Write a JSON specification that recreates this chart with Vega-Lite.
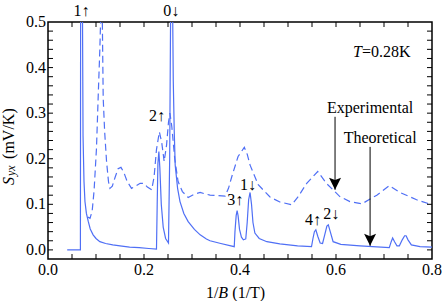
{
  "$schema": "https://vega.github.io/schema/vega-lite/v6.json",
  "width": 384,
  "height": 237,
  "autosize": {"type": "none"},
  "padding": {"left": 48, "top": 22, "right": 11, "bottom": 42},
  "background": "white",
  "config": {
    "view": {"stroke": "#000", "strokeWidth": 1.5},
    "font": "Liberation Serif"
  },
  "datasets": {
    "theo": [
      {"x": 0.04, "y": 0.0}, {"x": 0.0675, "y": 0.0}, {"x": 0.068, "y": 0.6}, {"x": 0.0715, "y": 0.6},
      {"x": 0.073, "y": 0.25}, {"x": 0.075, "y": 0.15}, {"x": 0.077, "y": 0.106}, {"x": 0.08, "y": 0.08},
      {"x": 0.084, "y": 0.062}, {"x": 0.088, "y": 0.046}, {"x": 0.094, "y": 0.033}, {"x": 0.1, "y": 0.025},
      {"x": 0.108, "y": 0.018}, {"x": 0.12, "y": 0.014}, {"x": 0.135, "y": 0.011}, {"x": 0.15, "y": 0.009},
      {"x": 0.17, "y": 0.006}, {"x": 0.19, "y": 0.005}, {"x": 0.21, "y": 0.003}, {"x": 0.226, "y": 0.0015},
      {"x": 0.2275, "y": 0.1}, {"x": 0.229, "y": 0.19}, {"x": 0.231, "y": 0.216}, {"x": 0.233, "y": 0.18},
      {"x": 0.236, "y": 0.1}, {"x": 0.24, "y": 0.05}, {"x": 0.245, "y": 0.025}, {"x": 0.251, "y": 0.015},
      {"x": 0.2535, "y": 0.2}, {"x": 0.255, "y": 0.45}, {"x": 0.256, "y": 0.6}, {"x": 0.259, "y": 0.6},
      {"x": 0.261, "y": 0.37}, {"x": 0.263, "y": 0.26}, {"x": 0.265, "y": 0.186}, {"x": 0.27, "y": 0.135},
      {"x": 0.275, "y": 0.106}, {"x": 0.283, "y": 0.08}, {"x": 0.292, "y": 0.062}, {"x": 0.305, "y": 0.045},
      {"x": 0.317, "y": 0.033}, {"x": 0.33, "y": 0.024}, {"x": 0.3375, "y": 0.02}, {"x": 0.36, "y": 0.014},
      {"x": 0.388, "y": 0.007}, {"x": 0.3895, "y": 0.04}, {"x": 0.392, "y": 0.075}, {"x": 0.394, "y": 0.086},
      {"x": 0.396, "y": 0.075}, {"x": 0.399, "y": 0.045}, {"x": 0.403, "y": 0.028}, {"x": 0.407, "y": 0.022},
      {"x": 0.412, "y": 0.024}, {"x": 0.415, "y": 0.06}, {"x": 0.418, "y": 0.11}, {"x": 0.421, "y": 0.126},
      {"x": 0.424, "y": 0.1}, {"x": 0.427, "y": 0.06}, {"x": 0.431, "y": 0.037}, {"x": 0.44, "y": 0.025},
      {"x": 0.456, "y": 0.018}, {"x": 0.483, "y": 0.013}, {"x": 0.52, "y": 0.009}, {"x": 0.549, "y": 0.007},
      {"x": 0.552, "y": 0.025}, {"x": 0.555, "y": 0.04}, {"x": 0.558, "y": 0.044}, {"x": 0.562, "y": 0.03},
      {"x": 0.567, "y": 0.015}, {"x": 0.572, "y": 0.014}, {"x": 0.577, "y": 0.035}, {"x": 0.581, "y": 0.052},
      {"x": 0.584, "y": 0.055}, {"x": 0.588, "y": 0.04}, {"x": 0.594, "y": 0.018}, {"x": 0.61, "y": 0.012},
      {"x": 0.65, "y": 0.009}, {"x": 0.711, "y": 0.005}, {"x": 0.715, "y": 0.018}, {"x": 0.718, "y": 0.026},
      {"x": 0.722, "y": 0.018}, {"x": 0.727, "y": 0.009}, {"x": 0.732, "y": 0.009}, {"x": 0.738, "y": 0.022},
      {"x": 0.743, "y": 0.031}, {"x": 0.746, "y": 0.031}, {"x": 0.75, "y": 0.022}, {"x": 0.757, "y": 0.011},
      {"x": 0.775, "y": 0.007}, {"x": 0.8, "y": 0.006}
    ],
    "exp": [
      {"x": 0.083, "y": 0.072}, {"x": 0.0875, "y": 0.069}, {"x": 0.092, "y": 0.085}, {"x": 0.096, "y": 0.13},
      {"x": 0.101, "y": 0.223}, {"x": 0.105, "y": 0.35}, {"x": 0.108, "y": 0.44}, {"x": 0.11, "y": 0.52},
      {"x": 0.113, "y": 0.52}, {"x": 0.115, "y": 0.333}, {"x": 0.118, "y": 0.26}, {"x": 0.122, "y": 0.194},
      {"x": 0.126, "y": 0.15}, {"x": 0.129, "y": 0.135}, {"x": 0.134, "y": 0.14}, {"x": 0.14, "y": 0.16},
      {"x": 0.146, "y": 0.178}, {"x": 0.152, "y": 0.181}, {"x": 0.158, "y": 0.17}, {"x": 0.165, "y": 0.15},
      {"x": 0.174, "y": 0.135}, {"x": 0.183, "y": 0.14}, {"x": 0.192, "y": 0.146}, {"x": 0.199, "y": 0.146},
      {"x": 0.207, "y": 0.138}, {"x": 0.216, "y": 0.132}, {"x": 0.221, "y": 0.16}, {"x": 0.226, "y": 0.22},
      {"x": 0.232, "y": 0.259}, {"x": 0.237, "y": 0.235}, {"x": 0.242, "y": 0.194}, {"x": 0.247, "y": 0.23},
      {"x": 0.251, "y": 0.28}, {"x": 0.254, "y": 0.3}, {"x": 0.258, "y": 0.27}, {"x": 0.264, "y": 0.2},
      {"x": 0.271, "y": 0.15}, {"x": 0.28, "y": 0.128}, {"x": 0.292, "y": 0.115}, {"x": 0.305, "y": 0.122},
      {"x": 0.317, "y": 0.126}, {"x": 0.3375, "y": 0.12}, {"x": 0.369, "y": 0.118}, {"x": 0.376, "y": 0.135},
      {"x": 0.383, "y": 0.161}, {"x": 0.396, "y": 0.205}, {"x": 0.409, "y": 0.225}, {"x": 0.415, "y": 0.21},
      {"x": 0.421, "y": 0.186}, {"x": 0.438, "y": 0.143}, {"x": 0.4625, "y": 0.116}, {"x": 0.483, "y": 0.105},
      {"x": 0.508, "y": 0.099}, {"x": 0.52, "y": 0.115}, {"x": 0.539, "y": 0.146}, {"x": 0.562, "y": 0.172},
      {"x": 0.58, "y": 0.146}, {"x": 0.608, "y": 0.117}, {"x": 0.629, "y": 0.106}, {"x": 0.654, "y": 0.101},
      {"x": 0.685, "y": 0.12}, {"x": 0.711, "y": 0.141}, {"x": 0.733, "y": 0.126}, {"x": 0.768, "y": 0.11},
      {"x": 0.8, "y": 0.099}
    ],
    "xticks": [
      {"v": 0.05}, {"v": 0.1}, {"v": 0.15}, {"v": 0.2}, {"v": 0.25}, {"v": 0.3}, {"v": 0.35}, {"v": 0.4},
      {"v": 0.45}, {"v": 0.5}, {"v": 0.55}, {"v": 0.6}, {"v": 0.65}, {"v": 0.7}, {"v": 0.75}
    ],
    "yticks": [
      {"v": 0.0}, {"v": 0.02}, {"v": 0.04}, {"v": 0.06}, {"v": 0.08}, {"v": 0.1}, {"v": 0.12}, {"v": 0.14},
      {"v": 0.16}, {"v": 0.18}, {"v": 0.2}, {"v": 0.22}, {"v": 0.24}, {"v": 0.26}, {"v": 0.28}, {"v": 0.3},
      {"v": 0.32}, {"v": 0.34}, {"v": 0.36}, {"v": 0.38}, {"v": 0.4}, {"v": 0.42}, {"v": 0.44}, {"v": 0.46},
      {"v": 0.48}
    ],
    "xlabels": [
      {"v": 0.0, "label": "0.0"}, {"v": 0.2, "label": "0.2"}, {"v": 0.4, "label": "0.4"},
      {"v": 0.6, "label": "0.6"}, {"v": 0.8, "label": "0.8"}
    ],
    "ylabels": [
      {"v": 0.0, "label": "0.0"}, {"v": 0.1, "label": "0.1"}, {"v": 0.2, "label": "0.2"},
      {"v": 0.3, "label": "0.3"}, {"v": 0.4, "label": "0.4"}, {"v": 0.5, "label": "0.5"}
    ],
    "labels": [
      {"label": "1↑", "x": 0.0698, "y": 0.524}, {"label": "0↓", "x": 0.257, "y": 0.524},
      {"label": "2↑", "x": 0.227, "y": 0.294}, {"label": "3↑", "x": 0.39, "y": 0.109},
      {"label": "1↓", "x": 0.4165, "y": 0.143}, {"label": "4↑", "x": 0.552, "y": 0.066},
      {"label": "2↓", "x": 0.59, "y": 0.078}, {"label": "Experimental", "x": 0.671, "y": 0.311},
      {"label": "Theoretical", "x": 0.692, "y": 0.246}
    ],
    "arrows": [
      {"x": 0.598, "top": 0.292, "tip": 0.132},
      {"x": 0.671, "top": 0.226, "tip": 0.009}
    ],
    "tItalic": [{"label": "T", "x": 0.654, "y": 0.434}],
    "tRest": [{"label": "=0.28K", "x": 0.654, "y": 0.434}],
    "yS": [{"label": "S", "x": -0.0715, "y": 0.1425}],
    "ySub": [{"label": "yx", "x": -0.068, "y": 0.162}],
    "yUnit": [{"label": "(mV/K)", "x": -0.0715, "y": 0.1996}],
    "x1": [{"label": "1/", "x": 0.355, "y": -0.105}],
    "xB": [{"label": "B", "x": 0.365, "y": -0.105}],
    "xUnit": [{"label": "(1/T)", "x": 0.384, "y": -0.105}]
  },
  "layer": [
    {
      "data": {"name": "theo"},
      "mark": {"type": "line", "color": "#4f6ff5", "strokeWidth": 1.2, "clip": true},
      "encoding": {
        "x": {"field": "x", "type": "quantitative", "scale": {"domain": [0, 0.8], "nice": false, "zero": false}, "axis": null},
        "y": {"field": "y", "type": "quantitative", "scale": {"domain": [-0.02, 0.5], "nice": false, "zero": false}, "axis": null}
      }
    },
    {
      "data": {"name": "exp"},
      "mark": {"type": "line", "color": "#4f6ff5", "strokeWidth": 1.2, "strokeDash": [7, 4], "clip": true},
      "encoding": {
        "x": {"field": "x", "type": "quantitative", "scale": {"domain": [0, 0.8], "nice": false, "zero": false}, "axis": null},
        "y": {"field": "y", "type": "quantitative", "scale": {"domain": [-0.02, 0.5], "nice": false, "zero": false}, "axis": null}
      }
    },
    {
      "data": {"name": "xticks"},
      "mark": {"type": "tick", "orient": "vertical", "color": "#000", "thickness": 1, "size": 10, "opacity": 1, "clip": true},
      "encoding": {
        "x": {"field": "v", "type": "quantitative", "scale": {"domain": [0, 0.8], "nice": false, "zero": false}, "axis": null},
        "y": {"datum": -0.02, "type": "quantitative", "scale": {"domain": [-0.02, 0.5], "nice": false, "zero": false}, "axis": null}
      }
    },
    {
      "data": {"name": "xticks"},
      "mark": {"type": "tick", "orient": "vertical", "color": "#000", "thickness": 1, "size": 10, "opacity": 1, "clip": true},
      "encoding": {
        "x": {"field": "v", "type": "quantitative", "scale": {"domain": [0, 0.8], "nice": false, "zero": false}, "axis": null},
        "y": {"datum": 0.5, "type": "quantitative", "scale": {"domain": [-0.02, 0.5], "nice": false, "zero": false}, "axis": null}
      }
    },
    {
      "data": {"name": "yticks"},
      "mark": {"type": "tick", "orient": "horizontal", "color": "#000", "thickness": 1, "size": 10, "opacity": 1, "clip": true},
      "encoding": {
        "y": {"field": "v", "type": "quantitative", "scale": {"domain": [-0.02, 0.5], "nice": false, "zero": false}, "axis": null},
        "x": {"datum": 0, "type": "quantitative", "scale": {"domain": [0, 0.8], "nice": false, "zero": false}, "axis": null}
      }
    },
    {
      "data": {"name": "yticks"},
      "mark": {"type": "tick", "orient": "horizontal", "color": "#000", "thickness": 1, "size": 10, "opacity": 1, "clip": true},
      "encoding": {
        "y": {"field": "v", "type": "quantitative", "scale": {"domain": [-0.02, 0.5], "nice": false, "zero": false}, "axis": null},
        "x": {"datum": 0.8, "type": "quantitative", "scale": {"domain": [0, 0.8], "nice": false, "zero": false}, "axis": null}
      }
    },
    {
      "data": {"name": "xlabels"},
      "mark": {"type": "text", "font": "Liberation Serif", "fontSize": 16, "color": "#000", "align": "center", "baseline": "top", "dy": 3},
      "encoding": {
        "x": {"field": "v", "type": "quantitative", "scale": {"domain": [0, 0.8], "nice": false, "zero": false}, "axis": null},
        "y": {"datum": -0.02, "type": "quantitative", "scale": {"domain": [-0.02, 0.5], "nice": false, "zero": false}, "axis": null},
        "text": {"field": "label"}
      }
    },
    {
      "data": {"name": "ylabels"},
      "mark": {"type": "text", "font": "Liberation Serif", "fontSize": 16, "color": "#000", "align": "right", "baseline": "middle", "dx": -2},
      "encoding": {
        "y": {"field": "v", "type": "quantitative", "scale": {"domain": [-0.02, 0.5], "nice": false, "zero": false}, "axis": null},
        "x": {"datum": 0, "type": "quantitative", "scale": {"domain": [0, 0.8], "nice": false, "zero": false}, "axis": null},
        "text": {"field": "label"}
      }
    },
    {
      "data": {"name": "arrows"},
      "mark": {"type": "rule", "color": "#000", "strokeWidth": 1},
      "encoding": {
        "x": {"field": "x", "type": "quantitative", "scale": {"domain": [0, 0.8], "nice": false, "zero": false}, "axis": null},
        "y": {"field": "top", "type": "quantitative", "scale": {"domain": [-0.02, 0.5], "nice": false, "zero": false}, "axis": null},
        "y2": {"field": "tip"}
      }
    },
    {
      "data": {"name": "arrows"},
      "mark": {"type": "point", "shape": "M-1,-2L0,-1.6L1,-2L0,0Z", "filled": true, "color": "#000", "size": 144, "opacity": 1},
      "encoding": {
        "x": {"field": "x", "type": "quantitative", "scale": {"domain": [0, 0.8], "nice": false, "zero": false}, "axis": null},
        "y": {"field": "tip", "type": "quantitative", "scale": {"domain": [-0.02, 0.5], "nice": false, "zero": false}, "axis": null}
      }
    },
    {
      "data": {"name": "labels"},
      "mark": {"type": "text", "font": "Liberation Serif", "fontSize": 16, "color": "#000", "align": "center", "baseline": "middle"},
      "encoding": {
        "x": {"field": "x", "type": "quantitative", "scale": {"domain": [0, 0.8], "nice": false, "zero": false}, "axis": null},
        "y": {"field": "y", "type": "quantitative", "scale": {"domain": [-0.02, 0.5], "nice": false, "zero": false}, "axis": null},
        "text": {"field": "label"}
      }
    },
    {
      "data": {"name": "tItalic"},
      "mark": {"type": "text", "font": "Liberation Serif", "fontSize": 16, "fontStyle": "italic", "color": "#000", "align": "right", "baseline": "middle"},
      "encoding": {
        "x": {"field": "x", "type": "quantitative", "scale": {"domain": [0, 0.8], "nice": false, "zero": false}, "axis": null},
        "y": {"field": "y", "type": "quantitative", "scale": {"domain": [-0.02, 0.5], "nice": false, "zero": false}, "axis": null},
        "text": {"field": "label"}
      }
    },
    {
      "data": {"name": "tRest"},
      "mark": {"type": "text", "font": "Liberation Serif", "fontSize": 16, "color": "#000", "align": "left", "baseline": "middle"},
      "encoding": {
        "x": {"field": "x", "type": "quantitative", "scale": {"domain": [0, 0.8], "nice": false, "zero": false}, "axis": null},
        "y": {"field": "y", "type": "quantitative", "scale": {"domain": [-0.02, 0.5], "nice": false, "zero": false}, "axis": null},
        "text": {"field": "label"}
      }
    },
    {
      "data": {"name": "yS"},
      "mark": {"type": "text", "font": "Liberation Serif", "fontSize": 16, "fontStyle": "italic", "color": "#000", "align": "left", "baseline": "alphabetic", "angle": 270},
      "encoding": {
        "x": {"field": "x", "type": "quantitative", "scale": {"domain": [0, 0.8], "nice": false, "zero": false}, "axis": null},
        "y": {"field": "y", "type": "quantitative", "scale": {"domain": [-0.02, 0.5], "nice": false, "zero": false}, "axis": null},
        "text": {"field": "label"}
      }
    },
    {
      "data": {"name": "ySub"},
      "mark": {"type": "text", "font": "Liberation Serif", "fontSize": 12, "fontStyle": "italic", "color": "#000", "align": "left", "baseline": "alphabetic", "angle": 270},
      "encoding": {
        "x": {"field": "x", "type": "quantitative", "scale": {"domain": [0, 0.8], "nice": false, "zero": false}, "axis": null},
        "y": {"field": "y", "type": "quantitative", "scale": {"domain": [-0.02, 0.5], "nice": false, "zero": false}, "axis": null},
        "text": {"field": "label"}
      }
    },
    {
      "data": {"name": "yUnit"},
      "mark": {"type": "text", "font": "Liberation Serif", "fontSize": 16, "color": "#000", "align": "left", "baseline": "alphabetic", "angle": 270},
      "encoding": {
        "x": {"field": "x", "type": "quantitative", "scale": {"domain": [0, 0.8], "nice": false, "zero": false}, "axis": null},
        "y": {"field": "y", "type": "quantitative", "scale": {"domain": [-0.02, 0.5], "nice": false, "zero": false}, "axis": null},
        "text": {"field": "label"}
      }
    },
    {
      "data": {"name": "x1"},
      "mark": {"type": "text", "font": "Liberation Serif", "fontSize": 16, "color": "#000", "align": "right", "baseline": "alphabetic"},
      "encoding": {
        "x": {"field": "x", "type": "quantitative", "scale": {"domain": [0, 0.8], "nice": false, "zero": false}, "axis": null},
        "y": {"field": "y", "type": "quantitative", "scale": {"domain": [-0.02, 0.5], "nice": false, "zero": false}, "axis": null},
        "text": {"field": "label"}
      }
    },
    {
      "data": {"name": "xB"},
      "mark": {"type": "text", "font": "Liberation Serif", "fontSize": 16, "fontStyle": "italic", "color": "#000", "align": "center", "baseline": "alphabetic"},
      "encoding": {
        "x": {"field": "x", "type": "quantitative", "scale": {"domain": [0, 0.8], "nice": false, "zero": false}, "axis": null},
        "y": {"field": "y", "type": "quantitative", "scale": {"domain": [-0.02, 0.5], "nice": false, "zero": false}, "axis": null},
        "text": {"field": "label"}
      }
    },
    {
      "data": {"name": "xUnit"},
      "mark": {"type": "text", "font": "Liberation Serif", "fontSize": 16, "color": "#000", "align": "left", "baseline": "alphabetic"},
      "encoding": {
        "x": {"field": "x", "type": "quantitative", "scale": {"domain": [0, 0.8], "nice": false, "zero": false}, "axis": null},
        "y": {"field": "y", "type": "quantitative", "scale": {"domain": [-0.02, 0.5], "nice": false, "zero": false}, "axis": null},
        "text": {"field": "label"}
      }
    }
  ]
}
